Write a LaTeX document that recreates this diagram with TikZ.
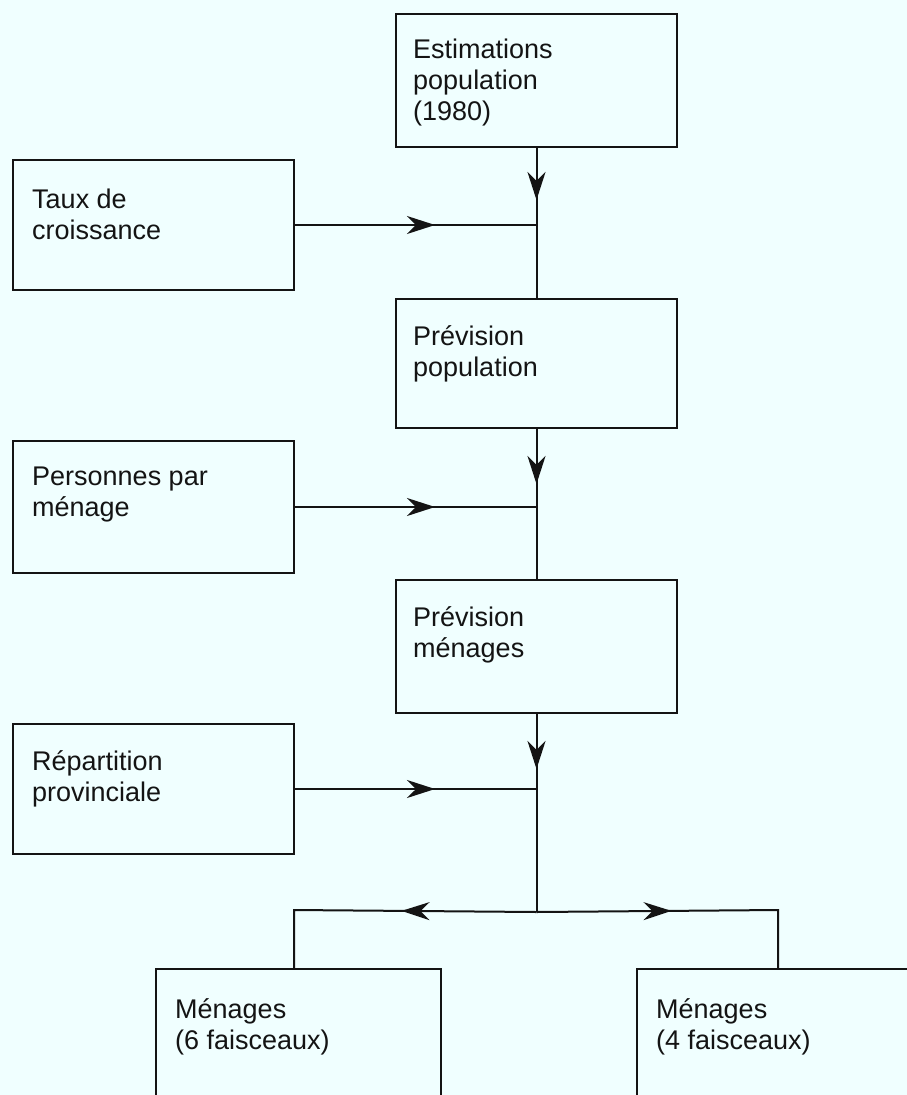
\documentclass[tikz,border=0pt]{standalone}
\usepackage{fontspec}
\setmainfont{Liberation Sans}
\usetikzlibrary{arrows.meta,decorations.markings,calc}
\definecolor{bgcol}{RGB}{240,255,255}
\definecolor{ink}{RGB}{20,20,20}
\begin{document}
\begin{tikzpicture}[x=1pt,y=-1pt,
  box/.style={draw=ink, line width=2pt, inner sep=0pt, minimum width=281pt, anchor=north west},
  txt/.style={font=\fontsize{27}{31}\selectfont, text=ink, align=left, inner sep=0pt, anchor=base west},
  conn/.style={draw=ink, line width=2pt, line join=miter},
  midarrow/.style={postaction={decorate}, decoration={markings, mark=at position #1 with {\arrow{Stealth[length=28pt,width=18pt,inset=9pt]}}}}]
\fill[bgcol] (0,0) rectangle (907,1095);
\useasboundingbox (0,0) rectangle (907,1095);
\clip (0,0) rectangle (907,1095);

% boxes
\node[box, minimum height=133pt] (est) at (395,13) {};
\node[box, minimum height=129pt] (pp) at (395,298) {};
\node[box, minimum height=133pt] (pm) at (395,579) {};
\node[box, minimum height=130pt] (taux) at (12,159) {};
\node[box, minimum height=132pt] (pers) at (12,440) {};
\node[box, minimum height=130pt] (rep) at (12,723) {};
\node[box, minimum width=285pt, minimum height=200pt] (m6) at (155,968) {};
\node[box, minimum width=285pt, minimum height=200pt] (m4) at (636,968) {};

% texts (anchor = baseline of the last line)
\node[txt] (test) at ($(est.north west)+(18,45+62)$) {Estimations\\population\\(1980)};
\node[txt] (tpp) at ($(pp.north west)+(18,47+31)$) {Prévision\\population};
\node[txt] (tpm) at ($(pm.north west)+(18,47+31)$) {Prévision\\ménages};
\node[txt] (ttaux) at ($(taux.north west)+(20,49+31)$) {Taux de\\croissance};
\node[txt] (tpers) at ($(pers.north west)+(20,45+31)$) {Personnes par\\ménage};
\node[txt] (trep) at ($(rep.north west)+(20,47+31)$) {Répartition\\provinciale};
\node[txt] (tm6) at ($(m6.north west)+(20,50+31)$) {Ménages\\(6 faisceaux)};
\node[txt] (tm4) at ($(m4.north west)+(20,50+31)$) {Ménages\\(4 faisceaux)};

% connectors
\coordinate (j) at ($(pm.south)+(0,198)$);
\coordinate (bl) at (294,910);
\coordinate (br) at (778,910);

\draw[conn, midarrow=52pt] (est.south) -- (pp.north);
\draw[conn, midarrow=55pt] (pp.south) -- (pm.north);
\draw[conn, midarrow=55pt] (pm.south) -- (j);

\draw[conn, midarrow=140pt] (taux.east) -- (taux.east -| est.south);
\draw[conn, midarrow=140pt] (pers.east) -- (pers.east -| est.south);
\draw[conn, midarrow=140pt] (rep.east) -- (rep.east -| est.south);

\draw[conn, midarrow=135pt] (j) -- (bl) -- (bl |- m6.north);
\draw[conn, midarrow=135pt] (j) -- (br) -- (br |- m4.north);
\end{tikzpicture}
\end{document}
